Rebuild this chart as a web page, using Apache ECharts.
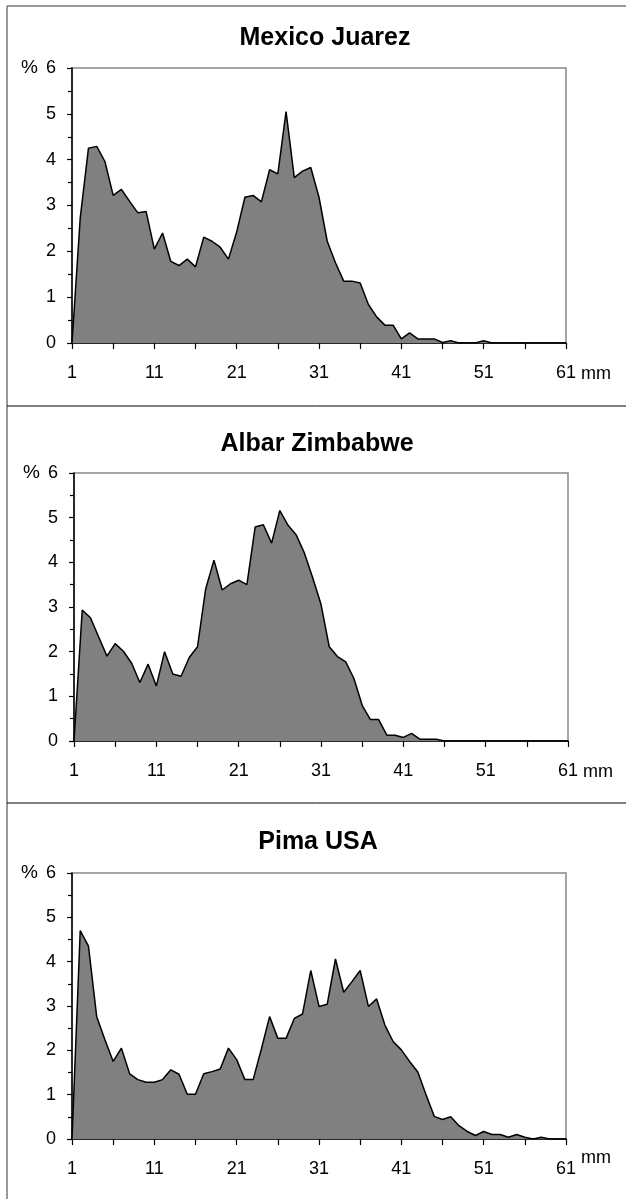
<!DOCTYPE html>
<html>
<head>
<meta charset="utf-8">
<script src="https://cdn.jsdelivr.net/npm/echarts@6/dist/echarts.min.js"></script>
<style>
html,body{margin:0;padding:0;background:#fff;}
#chart{width:626px;height:1199px;}
</style>
</head>
<body>
<div id="chart"></div>
<script>
var categories = ['1','2','3','4','5','6','7','8','9','10','11','12','13','14','15','16','17','18','19','20',
  '21','22','23','24','25','26','27','28','29','30','31','32','33','34','35','36','37','38','39','40',
  '41','42','43','44','45','46','47','48','49','50','51','52','53','54','55','56','57','58','59','60','61'];

var panelTitles = ['Mexico Juarez', 'Albar Zimbabwe', 'Pima USA'];

var mexicoJuarez = [0, 2.73, 4.25, 4.29, 3.96, 3.22, 3.35, 3.09, 2.84, 2.87,
  2.05, 2.40, 1.78, 1.69, 1.83, 1.66, 2.31, 2.22, 2.09, 1.83,
  2.42, 3.18, 3.22, 3.08, 3.78, 3.69, 5.05, 3.61, 3.75, 3.83,
  3.18, 2.22, 1.75, 1.35, 1.35, 1.31, 0.84, 0.57, 0.39, 0.39,
  0.09, 0.22, 0.09, 0.09, 0.09, 0.01, 0.05, 0, 0, 0,
  0.05, 0, 0, 0, 0, 0, 0, 0, 0, 0, 0];

var albarZimbabwe = [0, 2.93, 2.76, 2.33, 1.90, 2.18, 2.01, 1.74, 1.31, 1.72,
  1.23, 2.00, 1.50, 1.45, 1.87, 2.11, 3.41, 4.05, 3.38, 3.52,
  3.60, 3.50, 4.79, 4.84, 4.43, 5.16, 4.83, 4.61, 4.20, 3.65,
  3.06, 2.11, 1.89, 1.77, 1.40, 0.80, 0.48, 0.48, 0.13, 0.13,
  0.08, 0.17, 0.04, 0.04, 0.04, 0, 0, 0, 0, 0,
  0, 0, 0, 0, 0, 0, 0, 0, 0, 0, 0];

var pimaUSA = [0, 4.70, 4.35, 2.76, 2.24, 1.75, 2.05, 1.47, 1.34, 1.28,
  1.28, 1.34, 1.56, 1.46, 1.01, 1.01, 1.47, 1.52, 1.58, 2.05,
  1.79, 1.34, 1.34, 2.03, 2.76, 2.27, 2.27, 2.72, 2.82, 3.80,
  2.99, 3.04, 4.06, 3.31, 3.55, 3.80, 2.99, 3.16, 2.57, 2.20,
  2.01, 1.75, 1.51, 1.00, 0.51, 0.44, 0.50, 0.30, 0.17, 0.08,
  0.17, 0.10, 0.10, 0.04, 0.10, 0.04, 0.00, 0.04, 0, 0, 0];

var seriesData = [mexicoJuarez, albarZimbabwe, pimaUSA];

var FONT = '"Liberation Sans", Arial, Helvetica, sans-serif';

var grids = [
  {left: 72, top: 68, width: 494, height: 275},
  {left: 74, top: 473, width: 494, height: 268},
  {left: 72, top: 873, width: 494, height: 266}
];
var titleCenters = [[325, 26], [317, 432], [318, 830]];
var mmPad = [22, 22, 10];

var option = {
  animation: false,
  backgroundColor: '#fff',
  textStyle: {fontFamily: FONT},
  title: [],
  grid: [],
  xAxis: [],
  yAxis: [],
  series: [],
  graphic: [
    {type: 'line', shape: {x1: 7, y1: 6, x2: 626, y2: 6}, style: {stroke: '#777', lineWidth: 1.5}, silent: true},
    {type: 'line', shape: {x1: 7, y1: 6, x2: 7, y2: 1199}, style: {stroke: '#777', lineWidth: 1.5}, silent: true},
    {type: 'line', shape: {x1: 7, y1: 406, x2: 626, y2: 406}, style: {stroke: '#000', lineWidth: 1}, silent: true},
    {type: 'line', shape: {x1: 7, y1: 803, x2: 626, y2: 803}, style: {stroke: '#000', lineWidth: 1}, silent: true}
  ]
};

for (var i = 0; i < 3; i++) {
  option.title.push({
    text: panelTitles[i],
    left: titleCenters[i][0],
    top: titleCenters[i][1],
    textAlign: 'center',
    padding: 0,
    textStyle: {fontFamily: FONT, fontWeight: 'bold', fontSize: 25, color: '#000'}
  });
  option.grid.push({
    left: grids[i].left, top: grids[i].top, width: grids[i].width, height: grids[i].height,
    show: true, borderColor: '#888', borderWidth: 1.5, backgroundColor: '#fff'
  });
  option.xAxis.push({
    type: 'category',
    gridIndex: i,
    data: categories,
    boundaryGap: false,
    name: 'mm',
    nameLocation: 'end',
    nameGap: 15,
    nameTextStyle: {fontFamily: FONT, fontSize: 18, color: '#000', verticalAlign: 'top', padding: [mmPad[i], 0, 0, 0]},
    axisLine: {show: true, lineStyle: {color: '#000', width: 1.5}},
    axisTick: {show: true, interval: 4, length: 6, inside: false, lineStyle: {color: '#000', width: 1.2}},
    axisLabel: {show: true, interval: 9, margin: 21, fontFamily: FONT, fontSize: 18, color: '#000'},
    splitLine: {show: false}
  });
  option.yAxis.push({
    type: 'value',
    gridIndex: i,
    min: 0, max: 6, interval: 1,
    name: '%',
    nameLocation: 'end',
    nameGap: 0,
    nameTextStyle: {fontFamily: FONT, fontSize: 19, color: '#000', align: 'right', verticalAlign: 'middle', padding: [0, 34, 0, 0]},
    axisLine: {show: true, lineStyle: {color: '#000', width: 1.5}},
    axisTick: {show: true, length: 5, inside: false, lineStyle: {color: '#000', width: 1.2}},
    minorTick: {show: true, splitNumber: 2, length: 4, lineStyle: {color: '#000', width: 1.2}},
    axisLabel: {show: true, margin: 16, fontFamily: FONT, fontSize: 18, color: '#000'},
    splitLine: {show: false},
    minorSplitLine: {show: false}
  });
  option.series.push({
    type: 'line',
    name: panelTitles[i],
    xAxisIndex: i,
    yAxisIndex: i,
    data: seriesData[i],
    symbol: 'none',
    smooth: false,
    lineStyle: {color: '#000', width: 1.5},
    areaStyle: {color: '#808080', opacity: 1},
    z: 3
  });
}

var chart = echarts.init(document.getElementById('chart'), null, {renderer: 'canvas'});
chart.setOption(option);
</script>
</body>
</html>
